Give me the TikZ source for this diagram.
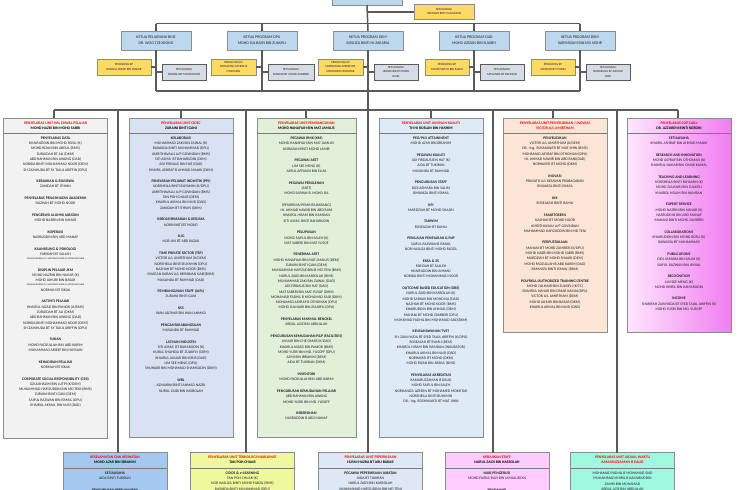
\documentclass[tikz,border=0pt]{standalone}
\usepackage{fontspec}
\setmainfont{Carlito}
\definecolor{lc}{HTML}{5A5A5A}
\definecolor{bc}{HTML}{8C8C8C}
\definecolor{kblue}{HTML}{BDD7EE}
\definecolor{yel}{HTML}{FFD966}
\definecolor{gry}{HTML}{D6DCE5}
\definecolor{c1}{HTML}{F2F2F2}
\definecolor{c2}{HTML}{D9E2F3}
\definecolor{c3}{HTML}{E2EFD9}
\definecolor{c4}{HTML}{DEEBF7}
\definecolor{c5}{HTML}{FBE5D6}
\definecolor{pinkL}{HTML}{FFE6FF}
\definecolor{pinkR}{HTML}{F07EF0}
\definecolor{b1}{HTML}{A4C8F0}
\definecolor{b2}{HTML}{EEF89C}
\definecolor{b3}{HTML}{DDE7F5}
\definecolor{b4}{HTML}{FFCCFF}
\definecolor{b5}{HTML}{A0F8E0}
\definecolor{rd}{HTML}{FF0000}
\definecolor{tx}{HTML}{1F1F1F}
\newcommand{\fb}{\fontsize{3.8}{5.3}\selectfont}
\newcommand{\fk}{\fontsize{4.0}{6.2}\selectfont}
\newcommand{\fp}{\fontsize{3.1}{4.4}\selectfont}
\newcommand{\ftiny}{\fontsize{2.4}{3.4}\selectfont}
\newcommand{\hd}[1]{\textbf{#1}}
\newcommand{\gp}{\\[6.3pt]}
\newcommand{\rt}[1]{\textcolor{rd}{\textbf{#1}}}
\begin{document}
\begin{tikzpicture}[x=1pt,y=-1pt,
  ln/.style={draw=lc,line width=1.5pt},
  sepl/.style={draw=lc!80,line width=0.7pt},
  bx/.style={draw=bc,line width=0.6pt,inner sep=0pt,outer sep=0pt},
  kbox/.style={bx,fill=kblue,minimum width=70pt,minimum height=19pt,align=center,font=\fk,text=tx},
  pbox/.style={bx,fill=yel,minimum height=16pt,align=center,font=\fp,text=tx},
  gbox/.style={bx,fill=gry,draw=lc,minimum width=44pt,minimum height=16pt,align=center,font=\fp,text=tx},
  col/.style={bx,minimum width=104pt,anchor=north},
  hdr/.style={align=center,font=\fb,inner sep=0pt,text=black},
  body/.style={align=center,font=\fb,inner sep=0pt,anchor=north,text=tx},
  bot/.style={bx,minimum width=104pt,minimum height=60pt,anchor=north}]
\useasboundingbox (0,0) rectangle (740,490);
\clip (0,0) rectangle (740,490);
\fill[white] (0,0) rectangle (740,490);
% ---------- coordinates
\coordinate (ta1) at (156,23.5); \coordinate (ta2) at (262,23.5); \coordinate (ta3) at (368,23.5);
\coordinate (ta4) at (474,23.5); \coordinate (ta5) at (580,23.5);
\coordinate (tb1) at (156,91); \coordinate (tb2) at (262,91); \coordinate (tb3) at (368,91);
\coordinate (tb4) at (474,91); \coordinate (tb5) at (580,91);
\coordinate (js) at (368,11.8);
\coordinate (mL) at (54,110); \coordinate (mR) at (678,110); \coordinate (m3) at (368,110);
\coordinate (q2) at (181,110); \coordinate (q3) at (306,110); \coordinate (q4) at (431,110); \coordinate (q5) at (553,110);
\coordinate (v1) at (118,110); \coordinate (v2) at (246,110); \coordinate (v4) at (493,110); \coordinate (v5) at (617,110);
% ---------- nodes (top)
\node[bx,fill=kblue,minimum width=70pt,minimum height=20pt] (kj) at (367,-5) {};
\node[pbox,minimum width=60pt,minimum height=15pt] (sec) at (444,11.8) {SETIAUSAHA\\HAMIZAH BINTI SULAIMAN};
\node[kbox] (k1) at (ta1 |- 0,40.5) {KETUA PELAKSANA BMS\\DR. WOO TZE KEONG};
\node[kbox] (k2) at (ta2 |- 0,40.5) {KETUA PROGRAM DPU\\MOHD ZULHAIRI BIN ZULKIFLI};
\node[kbox] (k3) at (ta3 |- 0,40.5) {KETUA PROGRAM DEM\\ROSLIZA BINTI HJ ZAKARIA};
\node[kbox] (k4) at (ta4 |- 0,40.5) {KETUA PROGRAM DAD\\MOHD AZIZAN BIN SUAIBH};
\node[kbox] (k5) at (ta5 |- 0,40.5) {KETUA PROGRAM DKM\\KARIMIZAM BIN MD NOHR};
\node[pbox,minimum width=54pt,anchor=east] (p1) at (151,67) {PENOLONG KP\\KHAIRUL NIZAD BIN PANIOR};
\node[pbox,minimum width=45pt,anchor=east] (p2) at (256,67) {PENOLONG KP\\MOHAMAD ASYRAF B\\OTHOMAN};
\node[pbox,minimum width=45pt,anchor=east] (p3) at (363,67) {PENOLONG KP\\NORHANIZA AZREEN BT\\MOHAMED MOKHTAR};
\node[pbox,minimum width=44pt,anchor=east] (p4) at (469,67) {PENOLONG KP\\MOHD SAIFUL BIN SALEH};
\node[pbox,minimum width=44pt,anchor=east] (p5) at (575,67) {PENOLONG KP\\ZANIDAH BT ITHNIN};
\node[gbox,anchor=west] (g1) at (162,72) {SETIAUSAHA\\NAZHAH BT MOHD NOOR};
\node[gbox,anchor=west,minimum width=46pt] (g2) at (268,72) {SETIAUSAHA\\MAHANI BT MOHD ZAMBERI};
\node[gbox,anchor=west] (g3) at (374,72) {SETIAUSAHA\\HERIAN BINTI MOHD\\JAMIL};
\node[gbox,anchor=west] (g4) at (480,72) {SETIAUSAHA\\MASLINDA BT RAHMAD};
\node[gbox,anchor=west] (g5) at (586,72) {SETIAUSAHA\\NORAZLINA BT AHMAD\\SANI};
% ---------- column boxes
\node[col,fill=c1,minimum height=320pt] (c1) at (55.5,118) {};
\node[col,fill=c2,minimum height=319pt] (c2) at (181,118) {};
\node[col,fill=c3,minimum width=99pt,minimum height=319pt] (c3) at (306.5,118) {};
\node[col,fill=c4,minimum height=319pt] (c4) at (431,118) {};
\node[col,fill=c5,minimum height=214pt] (c5) at (555,118) {};
\node[col,left color=pinkL,right color=pinkR,minimum height=214pt] (c6) at (679,118) {};
% ---------- bottom boxes
\node[bot,fill=b1] (bb1) at (115,452.5) {};
\node[bot,fill=b2] (bb2) at (242.5,452.5) {};
\node[bot,fill=b3] (bb3) at (370.5,452.5) {};
\node[bot,fill=b4] (bb4) at (497,452.5) {};
\node[bot,fill=b5] (bb5) at (622.5,452.5) {};
% ---------- connectors
\draw[ln] (ta1) -- (ta5);
\draw[ln] (tb1) -- (tb5);
\draw[ln] (ta1) -- (k1.north); \draw[ln] (k1.south) -- (tb1);
\draw[ln] (ta2) -- (k2.north); \draw[ln] (k2.south) -- (tb2);
\draw[ln] (kj.south) -- (k3.north); \draw[ln] (k3.south) -- (tb3);
\draw[ln] (ta4) -- (k4.north); \draw[ln] (k4.south) -- (tb4);
\draw[ln] (ta5) -- (k5.north); \draw[ln] (k5.south) -- (tb5);
\draw[ln] (js) -- (sec.west);
\draw[ln] (p1.east) -- (p1.east -| ta1); \draw[ln] (g1.west) -- (g1.west -| ta1);
\draw[ln] (p2.east) -- (p2.east -| ta2); \draw[ln] (g2.west) -- (g2.west -| ta2);
\draw[ln] (p3.east) -- (p3.east -| ta3); \draw[ln] (g3.west) -- (g3.west -| ta3);
\draw[ln] (p4.east) -- (p4.east -| ta4); \draw[ln] (g4.west) -- (g4.west -| ta4);
\draw[ln] (p5.east) -- (p5.east -| ta5); \draw[ln] (g5.west) -- (g5.west -| ta5);
\draw[ln] (tb3) -- (m3);
\draw[ln] (mL) -- (mR);
\draw[ln] (mL) -- (mL |- c1.north);
\draw[ln] (q2) -- (q2 |- c2.north);
\draw[ln] (q3) -- (q3 |- c3.north);
\draw[ln] (q4) -- (q4 |- c4.north);
\draw[ln] (q5) -- (q5 |- c5.north);
\draw[ln] (mR) -- (mR |- c6.north);
\draw[ln] (v1) -- (v1 |- bb1.north);
\draw[ln] (v2) -- (v2 |- bb2.north);
\draw[ln] (m3) -- (m3 |- bb3.north);
\draw[ln] (v4) -- (v4 |- bb4.north);
\draw[ln] (v5) -- (v5 |- bb5.north);
% ---------- header separators
\foreach \c in {c1,c2,c3,c4,c5,c6}{
  \draw[sepl] ([yshift=-15pt]\c.north west) -- ([yshift=-15pt]\c.north east);}
\foreach \c in {bb1,bb2,bb3,bb4,bb5}{
  \draw[sepl] ([yshift=-15.5pt]\c.north west) -- ([yshift=-15.5pt]\c.north east);}
% ---------- column headers
\node[hdr] (h1) at ([yshift=-7.6pt]c1.north) {\rt{PENYELARAS UNIT HAL EHWAL PELAJAR}\\\textbf{MOHD NAZRI BIN MOHD SABRI}};
\node[hdr] (h2) at ([yshift=-7.6pt]c2.north) {\rt{PENYELARAS UNIT CIDEC}\\\textbf{ZURAINI BINTI GANI}};
\node[hdr] (h3) at ([yshift=-7.6pt]c3.north) {\rt{PENYELARAS UNIT PEMBANGUNAN}\\\textbf{MOHD HANAFIAH BIN MAT JAMLUS}};
\node[hdr] (h4) at ([yshift=-7.6pt]c4.north) {\rt{PENYELARAS UNIT JAMINAN KUALITI}\\\textbf{TH HJ ROSLAN BIN HASHIM}};
\node[hdr] (h5) at ([yshift=-7.6pt]c5.north) {\rt{PENYELARAS UNIT PENYELIDIKAN / INOVASI}\\\rt{VICTOR A/L AMIRTHAM}};
\node[hdr] (h6) at ([yshift=-7.6pt]c6.north) {\rt{PENYELARAS COP CARe}\\\textbf{DR. AZZURENI BINTI KORDIN}};
% ---------- column bodies
\node[body] (t1) at ([yshift=-18.6pt]c1.north) {%
\hd{PENYELARAS DATA}\\KHAIRUDDIN BIN MOHD ROSLI (K)\\MOHD RIZAN BIN ABDUL (BMS)\\ZURAIDAH BT ALI (DKM)\\ABD RAHMAN BIN AWANG (DAD)\\NORIDA BINTI MOHAMMAD NOOR (DEM)\\SH ZAINHUDA BT SY TAJUL ARIFFIN  (DPU)\gp
\hd{KEBAJIKAN \& BIASISWA}\\ZANIDAH BT ITHNIN\gp
\hd{PENYELARAS PENASIHATAN AKADEMIK}\\NAZHAH BT MOHD NOOR\gp
\hd{PENGERUSI ALUMNI JABATAN}\\MOHD NAZRIN BIN NAHAR\gp
\hd{KOPERASI}\\NASRUDDIN BIN ABD MANAF\gp
\hd{KAUNSELING \& PSIKOLOGI}\\FARIDAH BT SALLEH\\[-1.2pt]{\ftiny SIVAGAN KARAN A/L SANGARAN NAIR A/L KRISHNAN NAIR}\gp
\hd{DISIPLIN PELAJAR JKM}\\MOHD NAZRIN BIN NAHAR (K)\\MOHD JAHURI BIN BASAR\\[-1.2pt]{\ftiny SIVAGAN KARAN A/L SANGARAN NAIR A/L KRISHNAN NAIR}\\NORMAH BT ISKAK\gp
\hd{AKTIVITI PELAJAR}\\KHAIRUL NIZAD BIN PANIOR (K/BMS)\\ZURAIDAH BT ALI (DKM)\\ABD RAHMAN BIN AWANG (DAD)\\NORIDA BINTI MOHAMMAD NOOR (DEM)\\SH ZAINHUDA BT SY TAJUL ARIFFIN  (DPU)\gp
\hd{SUKAN}\\MOHD FADZULLAH BIN ABD KARIM\\MUHAMMAD ARIEEF BIN HUSSAIN\gp
\hd{KEHADIRAN PELAJAR}\\NORMAH BT ISKAK\gp
\hd{CORPORATE SOCIAL RESPONSIBILITY (CSR)}\\DZULKHAZIM BIN LUTPI (K/DEM)\\MUHAMMAD HAFIZUDDIN BIN MD TENI (BMS)\\ZURAINI BINTI GANI (DEM)\\SAIFUL RAZWAN BIN ISMAIL (DPU)\\KHAIRUL AKMAL BIN NUSI (DAD)};
\node[body] (t2) at ([yshift=-18.6pt]c2.north) {%
\hd{KOLABORASI}\\MUHAMMAD ZAKI BIN ZAINAL (K)\\RAWAIDA BINTI MUHAMMAD (DPU)\\AMRITHAVALLI A/P GOVINDAN (BMS)\\SITI ASMA' BT BAHARUDIN (DEM)\\ADI FIRDAUS BIN HAT (DAD)\\KHAIRIL ASHRAF B AHMAD MALIKI (DKM)\gp
\hd{PENSYARAH PELAWAT INDUSTRI (PPI)}\\NORSHEILA BINTI BUYAMIN (K/DPU)\\AMRITHAVALLI A/P GOVINDAN (BMS)\\TAN POH CHUAR (DEM)\\KHAIRUL AKMAL BIN NUSI (DAD)\\ZANIDAH BT ITHNIN (DKM)\gp
\hd{KEBOLEHPASARAN \& KERJAYA}\\NORHAYATI BT MOHD\gp
\hd{1LIG}\\NOR AIN BT ABD RAZAK\gp
\hd{TIME PRIVATE SECTOR (TSP)}\\VICTOR A/L AMIRTHAM (K/DEM)\\NORSHEILA BINTI BUYAMIN (DPU)\\NAZHAH BT MOHD NOOR (BMS)\\SIVAGAN KARAN A/L KRISHNAN NAIR(DKM)\\MASLINDA BT RAHMAD (DAD)\gp
\hd{PEMBANGUNAN STAFF (JAPL)}\\ZURAINI BINTI GANI\gp
\hd{KSS}\\WAN ADZHAR BIN WAN AHMAD\gp
\hd{PENGANTARABANGSAAN}\\MASLINDA BT RAHMAD\gp
\hd{LATIHAN INDUSTRI}\\SITI ASMA' BT BAHARUDIN (K)\\NURUL SHAHIDA BT ZULKIFLY (DEM)\\KHAIRUL ANUAR BIN IDRIS (DAD)\\LIM SEE MENG (DPU)\\SHUHAIRI BIN MOHAMAD SHAMSUDIN (DKM)\gp
\hd{WBL}\\AZMARINI BINTI AHMAD NAZRI\\NURUL ZAIDI BIN KASBOLAH};
\node[body] (t3) at ([yshift=-18.6pt]c3.north) {%
\hd{PEGAWAI RMK (KM)}\\MOHD HANAFIAH BIN MAT JAMLUS\\NORAZAN BINTI MOHD JAMIR\gp
\hd{PEGAWAI ASET}\\LIM SEE MENG (K)\\AZRUL AFFANDI BIN ELIAS\gp
\hd{PEGAWAI PEROLEHAN}\\(ASET)\\MOHD SAPAWI B. MOHD ISA\gp
(PENERIMA/PEMINTA BARANG)\\HJ. AHMAD NAWIR BIN ABD RANI\\KHAIROL HISAM BIN HAMDAN\\SITI ASMA' BINTI BAHARUDIN\gp
\hd{PELUPUSAN}\\MOHD SAIFUL BIN SALEH (K)\\MAT SABERI BIN MAT YUSOF\gp
\hd{PENERIMA ASET}\\MOHD HANAFIAH BIN MAT JAMLUS (DEM)\\ZURAINI BINTI GANI (DEM)\\MUHAMMAD HAFIZUDDIN B MD TENI (BMS)\\NURUL ZAIDI BIN KASBOLAH (BMS)\\MUHAMMAD ZAKI BIN ZAINAL (DAD)\\ADI FIRDAUS BIN HAT (DAD)\\MAT SABERI BIN MAT YUSOF (DKM)\\MOHAMAD FADHIL B MOHAMAD SAID (DKM)\\MOHAMAD ASYRAF B OTHOMAN (DPU)\\MOHD ZULHAIRI BIN ZULKIFLI (DPU)\gp
\hd{PENYELARAS MAKMAL BENGKEL}\\ABDUL AZIZ BIN ABDULLAH\gp
\hd{PENGURUSAN KEMUDAHAN P\&P (FACILITIES)}\\ANUAR BIN CHE OMAR (K/DAD)\\KHAIRUL NIZAD BIN PANIOR (BMS)\\MOHD YUSRI BIN MD. YUSOFF (DPU)\\AZMI BIN IBRAHIM (DEM)\\AIDA BT TUKIRAN (DKM)\gp
\hd{INVENTORI}\\MOHD FADZULLAH BIN ABD KARIM\gp
\hd{PENGURUSAN KEMUDAHAN PELAJAR}\\ABD RAHMAN BIN AWANG\\MOHD YUSRI BIN MD. YUSOFF\gp
\hd{KEBERSIHAN}\\NASRUDDIN B ABD MANAF};
\node[body] (t4) at ([yshift=-18.6pt]c4.north) {%
\hd{PEO/PLO ATTAINMENT}\\MOHD AZMI BIN IBRAHIM\gp
\hd{PEGAWAI KUALITI}\\ADI FIRDAUS BIN HAT (K)\\AIDA BT TUKIRAN\\MASLINDA BT RAHMAD\gp
\hd{PENGURUSAN STAFF}\\DIDI ASMARA BIN SALIM\\ISMANIZA BINTI ISMAIL\gp
\hd{KPI}\\MARDZIAH BT MOHD SHAARI\gp
\hd{TAKWIM}\\ROSEAZAH BT RAMLI\gp
\hd{PENILAIAN PENSYARAH \& PdP}\\SAIFUL RAZWAN B ISMAIL\\NOR HASLIZA BINTI MOHD FADZIL\gp
\hd{EKSA \& 5S}\\FARIDAH BT SALLEH\\KHAIRUDDIN BIN AHMAD\\NORIDA BINTI MOHAMMAD NOOR\gp
\hd{OUTCOME BASED EDUCATION (OBE)}\\NURUL ZAIDI BIN KASBOLAH (K)\\MOHD SAPAWI BIN MOHD ISA (DAD)\\NAZHAH BT MOHD NOOR (BMS)\\KHAIRUDDIN BIN AHMAD (DEM)\\MAHANI BT MOHD ZAMBERI (DPU)\\MOHAMAD FADHIL BIN MOHAMAD SAID(DKM)\gp
\hd{KEUSAHAWANAN TVET}\\SH. ZAIN HUDA BT SYED TAJUL ARIFFIN (K/DPU)\\ROSEAZAH BT RAMLI (DEM)\\KHAIROL HISAM BIN HAMDAN (INKUBATOR)\\KHAIRUL AKMAL BIN NUSI (DAD)\\NORHAYATI BT MOHD (DKM)\\MOHD RIZAN BIN ABDUL (BMS)\gp
\hd{PENYELARAS AKREDITASI}\\KAMARUZZAMAN B DAUD\\MOHD SAIFUL BIN SALEH\\NORHANIZA AZREEN BT MOHAMED MOKHTAR\\NORSHEILA BINTI BUYAMIN\\DR. -Ing. ROSMAWATI BT MAT JIHIN};
\node[body] (t5) at ([yshift=-18.6pt]c5.north) {%
\hd{PENYELIDIKAN}\\VICTOR A/L AMIRTHAM (K/DEM)\\DR. -Ing. ROSMAWATI BT MAT JIHIN (BMS)\\MOHAMAD ASYRAF BIN OTHOMAN (DPU)\\HJ. AHMAD NAWIR BIN ABD RANI(DAD)\\NORHAYATI BT MOHD (DKM)\gp
\hd{INOVASI}\\PRASATH A/L KESAVAN PRABAGARAN\\ISMANIZA BINTI ISMAIL\gp
\hd{KIK}\\ROSEAZAH BINTI RAMLI\gp
\hd{SMARTGREEN}\\NAZHAH BT MOHD NOOR\\AMRITHAVALLI A/P GOVINDAN\\MUHAMMAD HAFIZUDDIN BIN MD TENI\gp
\hd{PERPUSTAKAAN}\\MAHANI BT MOHD ZAMBERI (K/DPU)\\MOHD NAZRI BIN MOHD SABRI (BMS)\\MARDZIAH BT MOHD SHAARI (DEM)\\MOHD FADZULLAH B ABD KARIM (DAD)\\ISMANIZA BINTI ISMAIL (DKM)\gp
\hd{POLYSKILL/AUTHORIZED TRAINING CENTRE}\\MOHD ZULHAIRI BIN ZULKIFLI (K/TC)\\SHAHRUL NAHAR BIN OMAR KAMAL(DPU)\\VICTOR A/L AMIRTHAM (DEM)\\MOHD JAHURI BIN BASAR (DKM)\\KHAIRUL AKMAL BIN NUSI (DAD)};
\node[body] (t6) at ([yshift=-18.6pt]c6.north) {%
\hd{SETIAUSAHA}\\KHAIRIL ASHRAF BIN AHMAD MALIKI\gp
\hd{RESEARCH AND INNOVATION}\\MOHD ASYRAF BIN OTHOMAN (K)\\SHAHRUL NAHAR BIN OMAR KAMAL\gp
\hd{TEACHING AND LEARNING}\\NORSHEILA BINTI BUYAMIN (K)\\MOHD ZULHAIRI BIN ZULKIFLI\\KHAIROL HISAM BIN HAMBAN\gp
\hd{EXPERT SERVICE}\\MOHD NAZRIN BIN NAHAR (K)\\NASRUDDIN BIN ABD MANAF\\MAHANI BINTI MOHD ZAMBERI\gp
\hd{COLLABORATIONS}\\KHAIRUDDIN BIN MOHD ROSLI (K)\\RAWAIDA BT MUHAMMAD\gp
\hd{PUBLICATIONS}\\DIDI ASMARA BIN SALIM (K)\\SAIFUL RAZWAN BIN ISMAIL\gp
\hd{RECOGNITION}\\LIM SEE MENG (K)\\MOHD KHIRIL BIN KAMARUDIN\gp
\hd{INCOME}\\SHARIFAH ZAINHUDA BT SYED TAJUL ARIFFIN (K)\\MOHD YUSRI BIN MD. YUSOFF};
% ---------- bottom box texts
\node[hdr] (bh1) at ([yshift=-7.6pt]bb1.north) {\rt{KESELAMATAN DAN KESIHATAN}\\\textbf{MOHD AZMI BIN IBRAHIM}};
\node[hdr] (bh2) at ([yshift=-7.6pt]bb2.north) {\rt{PENYELARAS UNIT TEKNOLOGI MAKLUMAT}\\\textbf{TAN POH CHUAR}};
\node[hdr] (bh3) at ([yshift=-7.6pt]bb3.north) {\rt{PENYELARAS UNIT PEPERIKSAAN}\\\textbf{HUSNI HAZRA BT ABU BAKAR}};
\node[hdr] (bh4) at ([yshift=-7.6pt]bb4.north) {\rt{KEBAJIKAN STAFF}\\\textbf{NURUL ZAIDI BIN KASBOLAH}};
\node[hdr] (bh5) at ([yshift=-7.6pt]bb5.north) {\rt{PENYELARAS UNIT JADUAL WAKTU}\\\rt{KAMARUZZAMAN B DAUD}};
\node[body] (bt1) at ([yshift=-19pt]bb1.north) {\hd{SETIAUSAHA}\\AIDA BINTI TUKIRAN\gp\hd{PENGURUSAN KESELAMATAN}};
\node[body] (bt2) at ([yshift=-19pt]bb2.north) {\hd{CIDOS \& e-LEARNING}\\TAN POH CHUAR (K)\\NOR HASLIZA BINTI MOHD FADZIL (BMS)\\RASHIDA BINTI MUHAMMAD (DPU)};
\node[body] (bt3) at ([yshift=-19pt]bb3.north) {\hd{PEGAWAI PEPERIKSAAN JABATAN}\\AIDA BT TUKIRAN\\NURUL ZAIDI BIN KASBOLAH\\MUHAMMAD HAFIZUDDIN BIN MD TENI};
\node[body] (bt4) at ([yshift=-19pt]bb4.north) {\hd{NAIB PENGERUSI}\\MOHD FAIRUL RAZI BIN JAMALUDDIN\gp\hd{BENDAHARI}};
\node[body] (bt5) at ([yshift=-19.5pt]bb5.north) {MOHAMAD FADHIL B MOHAMAD SAID\\MUHAMMAD KHIRIL B KAMARUDDIN\\ZAMRI BIN MOHAMAD\\ABDUL AZIZ BIN ABDULLAH};
\end{tikzpicture}
\end{document}
